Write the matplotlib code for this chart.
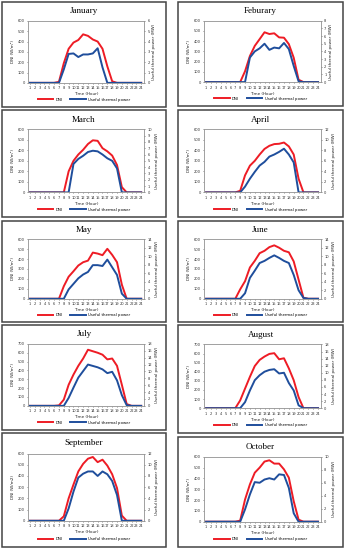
import matplotlib
matplotlib.use("Agg")
import matplotlib.pyplot as plt
from matplotlib.patches import Rectangle

hours = list(range(1, 25))

months = ["January", "Feburary", "March", "April", "May",
          "June", "July", "August", "September", "October"]

# DNI (W/m2), hourly
dni_jan = [0, 0, 0, 0, 0, 0, 10, 190, 330, 390, 415, 470, 455, 420, 400, 330, 160, 15, 0, 0, 0, 0, 0, 0]
dni_feb = [0, 0, 0, 0, 0, 0, 0, 0, 106, 255, 354, 420, 487, 470, 477, 437, 434, 371, 238, 23, 0, 0, 0, 0]
dni_mar = [0, 0, 0, 0, 0, 0, 0, 0, 200, 300, 360, 405, 460, 495, 490, 420, 390, 350, 260, 50, 0, 0, 0, 0]
dni_apr = [0, 0, 0, 0, 0, 0, 0, 15, 162, 254, 300, 360, 413, 443, 459, 462, 474, 437, 360, 130, 0, 0, 0, 0]
dni_may = [0, 0, 0, 0, 0, 0, 0, 126, 222, 277, 335, 368, 384, 465, 455, 439, 503, 442, 368, 142, 0, 0, 0, 0]
dni_jun = [0, 0, 0, 0, 0, 0, 0, 95, 177, 315, 382, 459, 483, 520, 538, 514, 483, 468, 376, 193, 10, 0, 0, 0]
dni_jul = [0, 0, 0, 0, 0, 0, 5, 70, 238, 353, 452, 535, 634, 617, 600, 578, 525, 535, 452, 238, 20, 0, 0, 0]
dni_aug = [0, 0, 0, 0, 0, 0, 0, 85, 215, 344, 463, 530, 567, 596, 604, 537, 548, 437, 307, 122, 0, 0, 0, 0]
dni_sep = [0, 0, 0, 0, 0, 0, 0, 40, 200, 323, 440, 508, 554, 569, 523, 545, 492, 415, 292, 46, 0, 0, 0, 0]
dni_oct = [0, 0, 0, 0, 0, 0, 0, 10, 205, 345, 453, 500, 556, 568, 537, 537, 484, 407, 189, 19, 0, 0, 0, 0]

# Useful thermal power (MW), hourly
pw_jan = [0, 0, 0, 0, 0, 0, 0, 1.3, 2.8, 2.85, 2.5, 2.75, 2.75, 2.85, 3.35, 1.5, 0, 0, 0, 0, 0, 0, 0, 0]
pw_feb = [0, 0, 0, 0, 0, 0, 0, 0, 0, 3.2, 4.0, 4.4, 5.0, 4.2, 4.5, 4.4, 5.1, 4.3, 2.1, 0.1, 0, 0, 0, 0]
pw_mar = [0, 0, 0, 0, 0, 0, 0, 0, 0, 4.5, 5.3, 5.8, 6.4, 6.6, 6.5, 6.0, 5.4, 5.0, 3.8, 0, 0, 0, 0, 0]
pw_apr = [0, 0, 0, 0, 0, 0, 0, 0, 1.1, 2.6, 3.9, 5.1, 5.8, 6.8, 7.2, 7.7, 8.3, 7.2, 5.7, 0, 0, 0, 0, 0]
pw_may = [0, 0, 0, 0, 0, 0, 0, 0, 2.2, 3.5, 4.8, 5.7, 6.3, 7.9, 7.9, 7.7, 9.2, 7.4, 5.6, 1.2, 0, 0, 0, 0]
pw_jun = [0, 0, 0, 0, 0, 0, 0, 0, 1.3, 4.9, 6.6, 8.4, 8.9, 9.6, 10.2, 9.6, 8.9, 8.4, 5.6, 2.0, 0.2, 0, 0, 0]
pw_jul = [0, 0, 0, 0, 0, 0, 0, 0, 2.3, 5.3, 8.2, 10.1, 12.0, 11.6, 11.2, 10.6, 9.5, 9.9, 7.4, 3.1, 0.2, 0, 0, 0]
pw_aug = [0, 0, 0, 0, 0, 0, 0, 0, 1.7, 5.0, 7.9, 9.3, 10.3, 10.8, 11.0, 9.8, 10.0, 7.1, 5.0, 0.8, 0, 0, 0, 0]
pw_sep = [0, 0, 0, 0, 0, 0, 0, 0, 2.2, 5.2, 7.7, 8.4, 8.8, 8.8, 8.0, 8.8, 8.3, 7.1, 4.6, 0, 0, 0, 0, 0]
pw_oct = [0, 0, 0, 0, 0, 0, 0, 0, 1.9, 4.2, 6.1, 6.0, 6.5, 6.7, 6.5, 7.3, 7.2, 5.2, 1.3, 0, 0, 0, 0, 0]

dni_all = [dni_jan, dni_feb, dni_mar, dni_apr, dni_may, dni_jun, dni_jul, dni_aug, dni_sep, dni_oct]
pw_all = [pw_jan, pw_feb, pw_mar, pw_apr, pw_may, pw_jun, pw_jul, pw_aug, pw_sep, pw_oct]

dni_max = [600, 600, 600, 600, 600, 600, 700, 700, 600, 600]
pw_max = [6, 8, 10, 12, 14, 14, 18, 18, 12, 10]
pw_step = [1, 1, 1, 2, 2, 2, 2, 2, 2, 2]

# panel boxes in pixels (x0, y0, x1, y1)
boxes = [
    (2, 2, 166, 107), (178, 2, 343, 106),
    (2, 110, 166, 217), (178, 110, 343, 217),
    (2, 221, 166, 322), (178, 221, 343, 322),
    (2, 325, 166, 430), (178, 325, 343, 433),
    (2, 433, 166, 547), (178, 437, 343, 547),
]

W, H = 345, 550
RED = "#ee1c25"
BLUE = "#1f4e9c"

fig = plt.figure(figsize=(W / 100, H / 100), dpi=100)


def fx(x):
    return x / W


def fy(y):
    return 1 - y / H


def draw_panel(i):
    x0, y0, x1, y1 = boxes[i]
    w, h = x1 - x0, y1 - y0
    fig.patches.append(Rectangle((fx(x0), fy(y1)), w / W, h / H, transform=fig.transFigure,
                                 fill=False, edgecolor="#444444", linewidth=1.1))
    ax_l = x0 + 0.16 * w
    ax_r = x0 + 0.865 * w
    ax_t = y0 + 0.18 * h
    ax_b = y0 + 0.77 * h
    ax = fig.add_axes([fx(ax_l), fy(ax_b), (ax_r - ax_l) / W, (ax_b - ax_t) / H])
    ax2 = ax.twinx()

    l1, = ax.plot(hours, dni_all[i], color=RED, lw=1.4, label="DNI")
    l2, = ax2.plot(hours, pw_all[i], color=BLUE, lw=1.4, label="Useful thermal power")

    ax.set_xlim(0.65, 24.55)
    ax.set_ylim(0, dni_max[i])
    ax2.set_ylim(0, pw_max[i])
    ax.set_xticks(hours)
    ax.set_yticks(range(0, dni_max[i] + 1, 100))
    ax2.set_yticks(range(0, pw_max[i] + 1, pw_step[i]))
    for a in (ax, ax2):
        a.tick_params(labelsize=2.6, length=1, width=0.4, pad=1.5, colors="#333333")
        for s in a.spines.values():
            s.set_color("#999999")
            s.set_linewidth(0.5)
    ax.set_xlabel("Time (Hour)", fontsize=3, labelpad=1.5, color="#222222")
    ax.set_ylabel("DNI (W/m²)" if i != 8 else "DNI (W/m2)", fontsize=3, labelpad=2, color="#222222")
    ax2.set_ylabel("Useful thermal power (MW)", fontsize=3, labelpad=2, color="#222222")

    fig.text(fx(x0 + 0.5 * w), fy(y0 + 0.09 * h), months[i], ha="center", va="center",
             fontsize=6.5, family="Liberation Serif")
    fig.legend([l1, l2], ["DNI", "Useful thermal power"], loc="center",
               bbox_to_anchor=(fx(x0 + 0.5 * w), fy(y0 + 0.93 * h)), ncol=2, frameon=False,
               fontsize=2.8, handlelength=4, columnspacing=2, handletextpad=0.6)


for i in range(len(months)):
    draw_panel(i)

fig.savefig("out.png", dpi=100)
